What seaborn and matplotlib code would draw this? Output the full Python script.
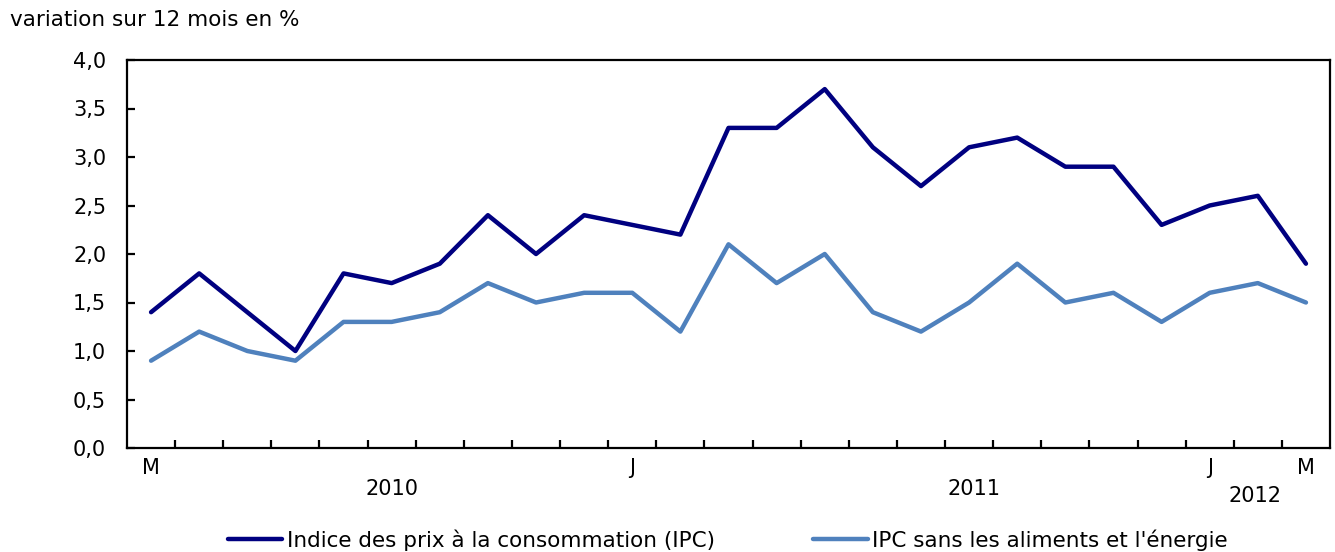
import numpy as np
import pandas as pd
import matplotlib
matplotlib.use('Agg')
import matplotlib.pyplot as plt
import matplotlib.transforms as mtransforms
import seaborn as sns

sns.set_style('white')
plt.rcParams['font.family'] = ['DejaVu Sans']
plt.rcParams['text.color'] = 'black'
plt.rcParams['xtick.color'] = 'black'
plt.rcParams['ytick.color'] = 'black'
plt.rcParams['xtick.bottom'] = True
plt.rcParams['ytick.left'] = True

# mars 2010 -> mars 2012
months = pd.date_range('2010-03-01', '2012-03-01', freq='MS')
ipc = [1.4, 1.8, 1.4, 1.0, 1.8, 1.7, 1.9, 2.4, 2.0, 2.4, 2.3, 2.2, 3.3,
       3.3, 3.7, 3.1, 2.7, 3.1, 3.2, 2.9, 2.9, 2.3, 2.5, 2.6, 1.9]
ipc_core = [0.9, 1.2, 1.0, 0.9, 1.3, 1.3, 1.4, 1.7, 1.5, 1.6, 1.6, 1.2, 2.1,
            1.7, 2.0, 1.4, 1.2, 1.5, 1.9, 1.5, 1.6, 1.3, 1.6, 1.7, 1.5]
series_names = ['Indice des prix à la consommation (IPC)',
                "IPC sans les aliments et l'énergie"]
month_labels = {0: 'M', 10: 'J', 22: 'J', 24: 'M'}
year_labels = [('2010', 5.0, -0.105), ('2011', 17.1, -0.105), ('2012', 22.95, -0.125)]
yticks = [0.0, 0.5, 1.0, 1.5, 2.0, 2.5, 3.0, 3.5, 4.0]

FS = 15
FS_TXT = 15.5

idx = np.arange(len(months))
df = pd.DataFrame({
    'x': np.concatenate([idx, idx]),
    'valeur': ipc + ipc_core,
    'serie': [series_names[0]] * len(idx) + [series_names[1]] * len(idx),
})

fig = plt.figure(figsize=(13.35, 5.52), dpi=100)
ax = fig.add_axes([127 / 1335, (552 - 448) / 552, (1330 - 127) / 1335, (448 - 60) / 552])

palette = {series_names[0]: '#000080', series_names[1]: '#4F81BD'}
sns.lineplot(data=df, x='x', y='valeur', hue='serie', palette=palette,
             linewidth=3.2, ax=ax, legend=False)

ax.set_xlim(-0.5, len(idx) - 0.5)
ax.set_ylim(0, 4.0)
ax.set_xlabel('')
ax.set_ylabel('')
for s in ax.spines.values():
    s.set_linewidth(1.6)
    s.set_color('black')

ax.set_yticks(yticks)
ax.set_yticklabels([f'{v:.1f}'.replace('.', ',') for v in yticks], fontsize=FS)
ax.set_xticks(idx[:-1] + 0.5)
ax.set_xticklabels([])
ax.tick_params(axis='both', direction='in', length=6, width=1.6, color='black')
ax.tick_params(axis='y', pad=15)

trans = mtransforms.blended_transform_factory(ax.transData, ax.transAxes)
for i, lab in month_labels.items():
    ax.text(i, -0.052, lab, transform=trans, ha='center', va='center', fontsize=FS)
for lab, xpos, ypos in year_labels:
    ax.text(xpos, ypos, lab, transform=trans, ha='center', va='center', fontsize=FS)

fig.text(10 / 1335, 1 - 20 / 552, 'variation sur 12 mois en %', fontsize=FS_TXT,
         ha='left', va='center')

handles = [plt.Line2D([], [], color=palette[n], linewidth=3.2) for n in series_names]
fig.legend(handles, series_names, loc='center', bbox_to_anchor=(0.545, 1 - 540 / 552),
           ncol=2, frameon=False, fontsize=FS_TXT, handlelength=2.55, handletextpad=0.2,
           columnspacing=4.55)

plt.savefig('out.png', dpi=100)
plt.close()
